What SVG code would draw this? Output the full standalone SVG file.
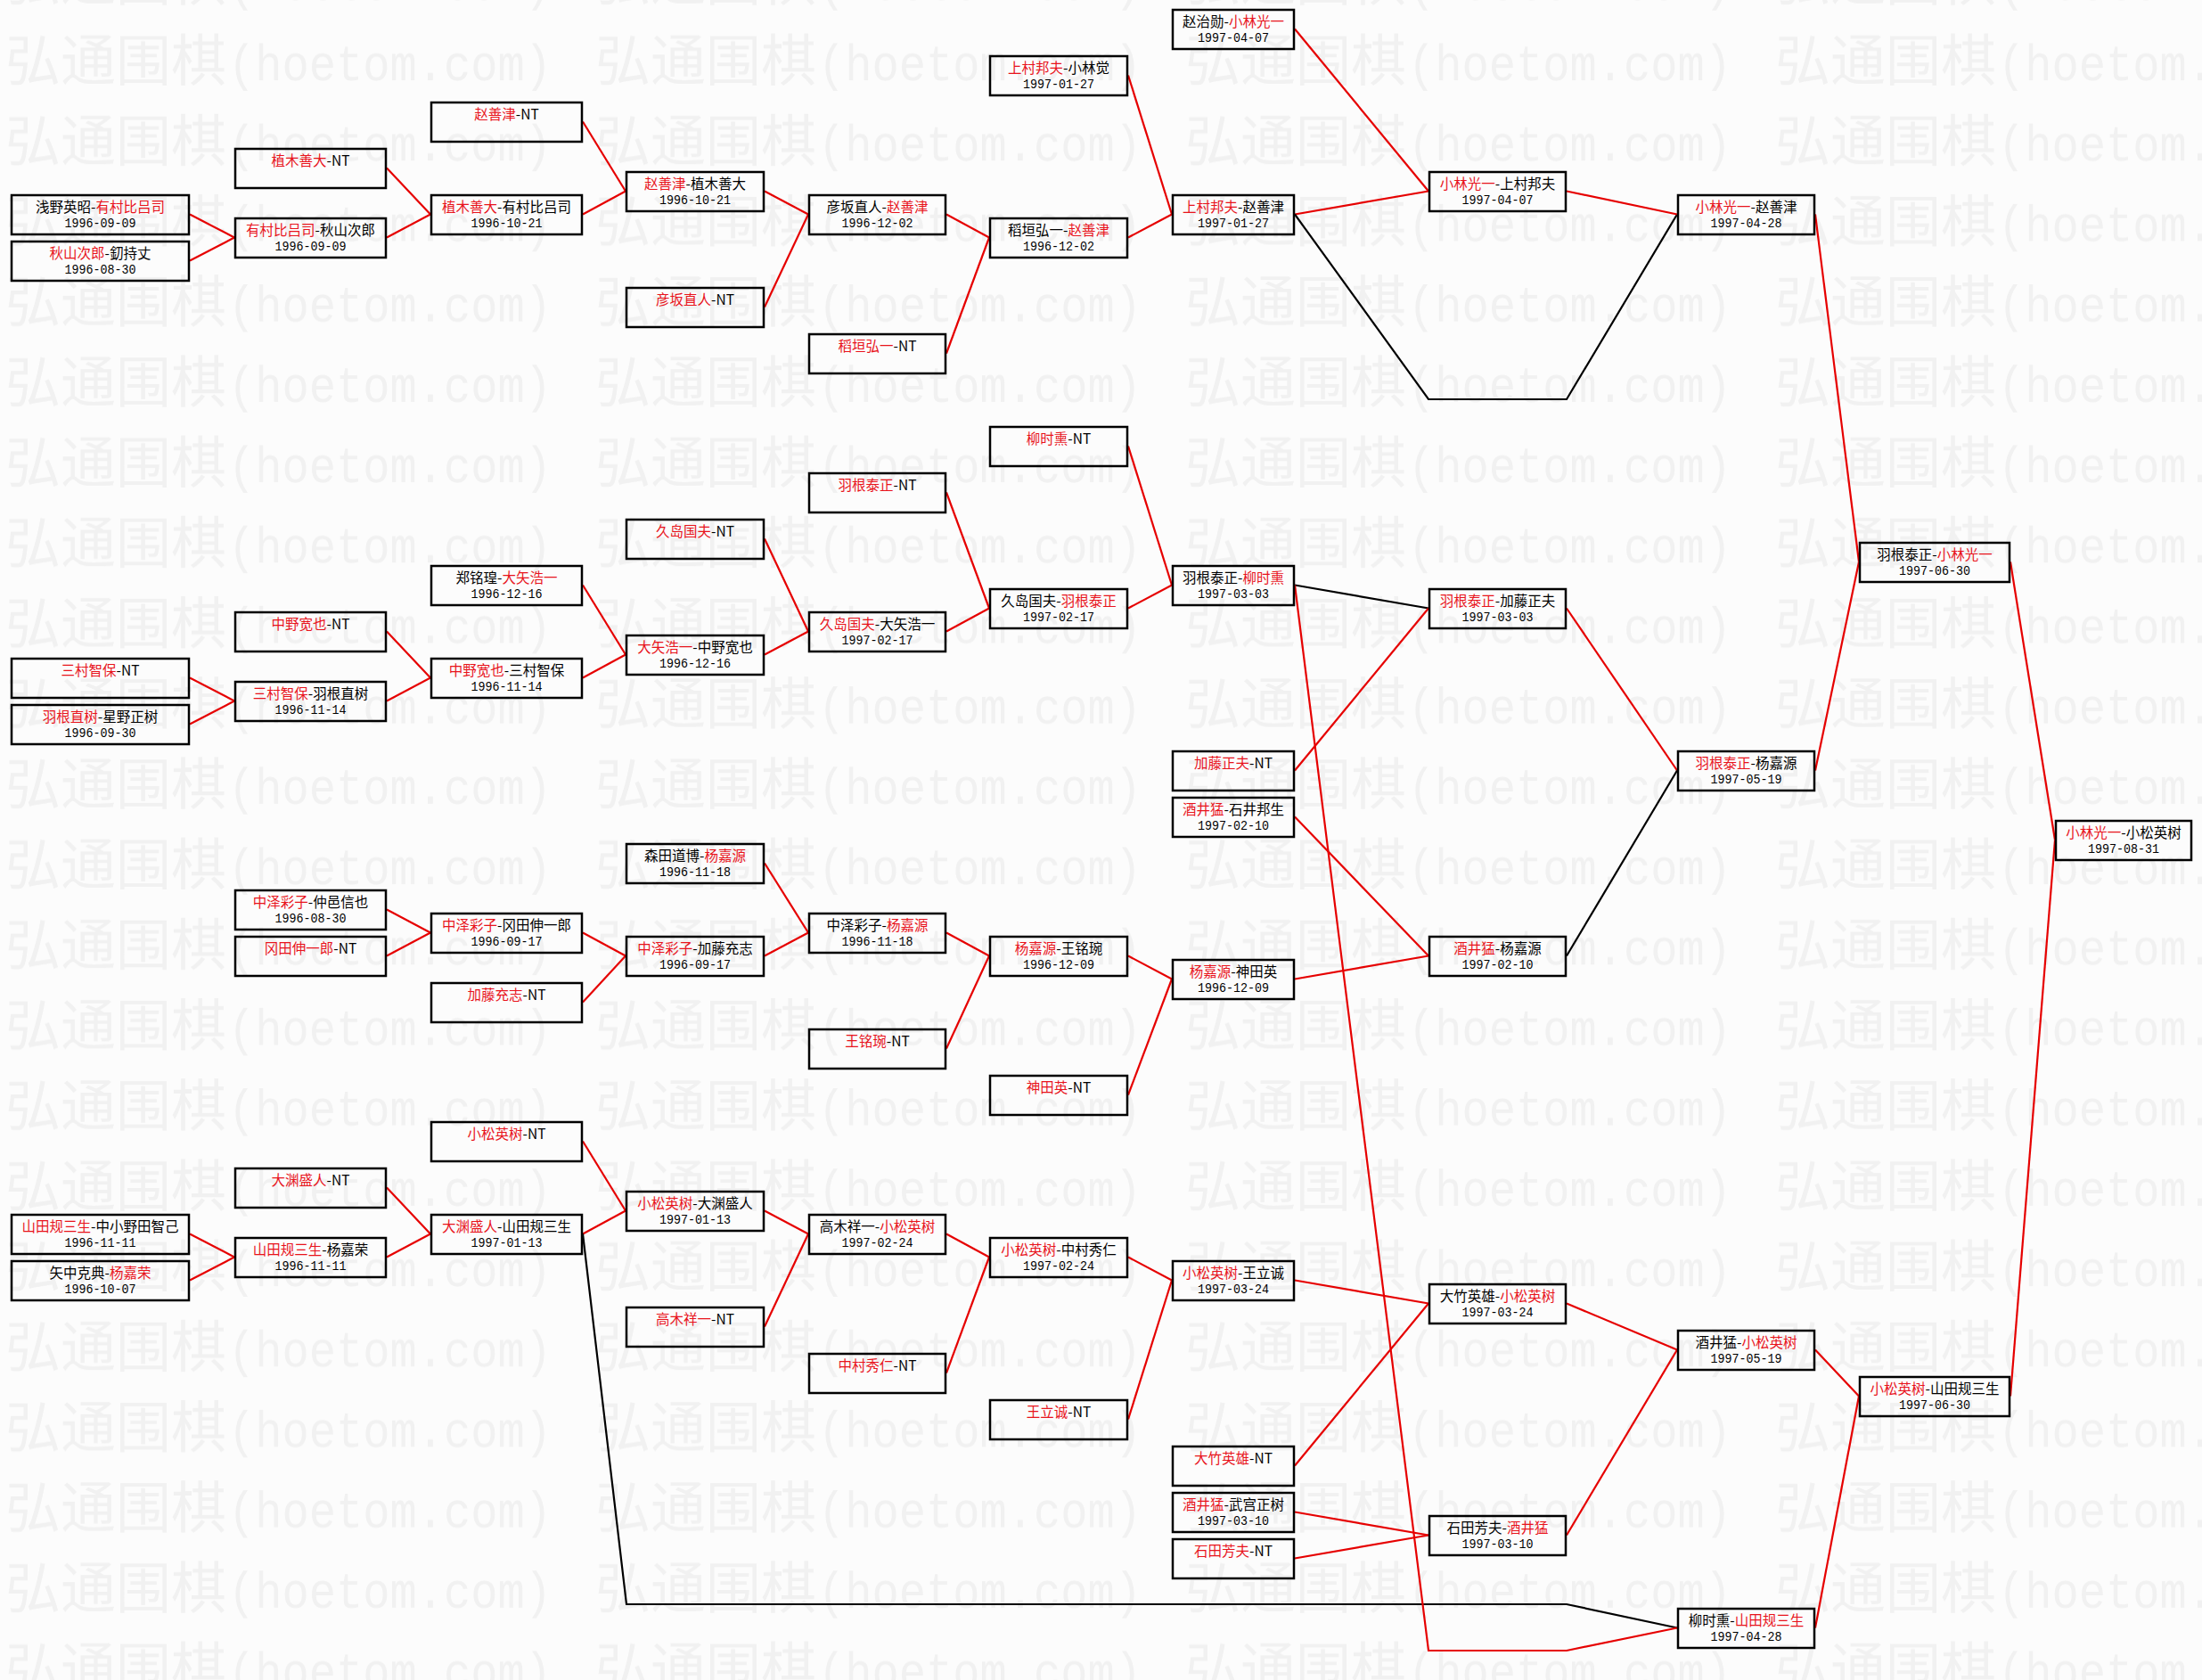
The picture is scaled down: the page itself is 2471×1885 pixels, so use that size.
<svg xmlns="http://www.w3.org/2000/svg" width="2471" height="1885" viewBox="0 0 2471 1885">
<style>
.n rect{fill:none;stroke:#000;stroke-width:2.5}
.t{font-family:"Noto Sans CJK SC","Noto Sans CJK JP",sans-serif;font-size:15.5px;fill:#000;text-anchor:middle}
.d{font-family:"Liberation Mono",monospace;font-size:15.5px;fill:#000}
.r{fill:#e8141c}
.cr{stroke:#e60000;stroke-width:2.2;fill:none}
.cb{stroke:#000;stroke-width:2.2;fill:none}
.wm1{font-family:"Noto Sans CJK SC",sans-serif;font-size:62px;fill:#f1f1f1}
.wm2{font-family:"Liberation Mono",monospace;font-size:56px;fill:#f1f1f1}
</style>
<defs>
<pattern id="wm" patternUnits="userSpaceOnUse" x="6" y="29.6" width="662" height="90.2">
<text class="wm1" x="0" y="60">弘通围棋</text>
<text class="wm2" x="250" y="60" textLength="363" lengthAdjust="spacingAndGlyphs">(hoetom.com)</text>
</pattern>
</defs>
<rect width="2471" height="1885" fill="#fcfcfc"/>
<rect width="2471" height="1885" fill="url(#wm)"/>

<g id="connectors">
<line class="cr" x1="213" y1="240.5" x2="263" y2="266.5"/>
<line class="cr" x1="213" y1="292.5" x2="263" y2="266.5"/>
<line class="cr" x1="213" y1="760.5" x2="263" y2="786.5"/>
<line class="cr" x1="213" y1="812.5" x2="263" y2="786.5"/>
<line class="cr" x1="213" y1="1384.5" x2="263" y2="1410.5"/>
<line class="cr" x1="213" y1="1436.5" x2="263" y2="1410.5"/>
<line class="cr" x1="434" y1="188.5" x2="483" y2="240.5"/>
<line class="cr" x1="434" y1="266.5" x2="483" y2="240.5"/>
<line class="cr" x1="434" y1="708.5" x2="483" y2="760.5"/>
<line class="cr" x1="434" y1="786.5" x2="483" y2="760.5"/>
<line class="cr" x1="434" y1="1020.5" x2="483" y2="1046.5"/>
<line class="cr" x1="434" y1="1072.5" x2="483" y2="1046.5"/>
<line class="cr" x1="434" y1="1332.5" x2="483" y2="1384.5"/>
<line class="cr" x1="434" y1="1410.5" x2="483" y2="1384.5"/>
<line class="cr" x1="654" y1="136.5" x2="702" y2="214.5"/>
<line class="cr" x1="654" y1="240.5" x2="702" y2="214.5"/>
<line class="cr" x1="654" y1="656.5" x2="702" y2="734.5"/>
<line class="cr" x1="654" y1="760.5" x2="702" y2="734.5"/>
<line class="cr" x1="654" y1="1046.5" x2="702" y2="1072.5"/>
<line class="cr" x1="654" y1="1124.5" x2="702" y2="1072.5"/>
<line class="cr" x1="654" y1="1280.5" x2="702" y2="1358.5"/>
<line class="cr" x1="654" y1="1384.5" x2="702" y2="1358.5"/>
<polyline class="cb" points="654,1384.5 703,1800 1758,1800 1882,1826.5"/>
<line class="cr" x1="858" y1="214.5" x2="907" y2="240.5"/>
<line class="cr" x1="858" y1="344.5" x2="907" y2="240.5"/>
<line class="cr" x1="858" y1="604.5" x2="907" y2="708.5"/>
<line class="cr" x1="858" y1="734.5" x2="907" y2="708.5"/>
<line class="cr" x1="858" y1="968.5" x2="907" y2="1046.5"/>
<line class="cr" x1="858" y1="1072.5" x2="907" y2="1046.5"/>
<line class="cr" x1="858" y1="1358.5" x2="907" y2="1384.5"/>
<line class="cr" x1="858" y1="1488.5" x2="907" y2="1384.5"/>
<line class="cr" x1="1062" y1="240.5" x2="1110" y2="266.5"/>
<line class="cr" x1="1062" y1="396.5" x2="1110" y2="266.5"/>
<line class="cr" x1="1062" y1="552.5" x2="1110" y2="682.5"/>
<line class="cr" x1="1062" y1="708.5" x2="1110" y2="682.5"/>
<line class="cr" x1="1062" y1="1046.5" x2="1110" y2="1072.5"/>
<line class="cr" x1="1062" y1="1176.5" x2="1110" y2="1072.5"/>
<line class="cr" x1="1062" y1="1384.5" x2="1110" y2="1410.5"/>
<line class="cr" x1="1062" y1="1540.5" x2="1110" y2="1410.5"/>
<line class="cr" x1="1266" y1="84.5" x2="1315" y2="240.5"/>
<line class="cr" x1="1266" y1="266.5" x2="1315" y2="240.5"/>
<line class="cr" x1="1266" y1="500.5" x2="1315" y2="656.5"/>
<line class="cr" x1="1266" y1="682.5" x2="1315" y2="656.5"/>
<line class="cr" x1="1266" y1="1072.5" x2="1315" y2="1098.5"/>
<line class="cr" x1="1266" y1="1228.5" x2="1315" y2="1098.5"/>
<line class="cr" x1="1266" y1="1410.5" x2="1315" y2="1436.5"/>
<line class="cr" x1="1266" y1="1592.5" x2="1315" y2="1436.5"/>
<line class="cr" x1="1453" y1="32.5" x2="1603" y2="214.5"/>
<line class="cr" x1="1453" y1="240.5" x2="1603" y2="214.5"/>
<polyline class="cb" points="1453,240.5 1603,448 1758,448 1882,240.5"/>
<line class="cb" x1="1453" y1="656.5" x2="1603" y2="682.5"/>
<line class="cr" x1="1453" y1="864.5" x2="1603" y2="682.5"/>
<line class="cr" x1="1453" y1="916.5" x2="1603" y2="1072.5"/>
<line class="cr" x1="1453" y1="1098.5" x2="1603" y2="1072.5"/>
<line class="cr" x1="1453" y1="1436.5" x2="1603" y2="1462.5"/>
<line class="cr" x1="1453" y1="1644.5" x2="1603" y2="1462.5"/>
<line class="cr" x1="1453" y1="1696.5" x2="1603" y2="1722.5"/>
<line class="cr" x1="1453" y1="1748.5" x2="1603" y2="1722.5"/>
<polyline class="cr" points="1453,656.5 1603,1852 1758,1852 1882,1826.5"/>
<line class="cr" x1="1758" y1="214.5" x2="1882" y2="240.5"/>
<line class="cr" x1="1758" y1="682.5" x2="1882" y2="864.5"/>
<line class="cb" x1="1758" y1="1072.5" x2="1882" y2="864.5"/>
<line class="cr" x1="1758" y1="1462.5" x2="1882" y2="1514.5"/>
<line class="cr" x1="1758" y1="1722.5" x2="1882" y2="1514.5"/>
<line class="cr" x1="2037" y1="240.5" x2="2086" y2="630.5"/>
<line class="cr" x1="2037" y1="864.5" x2="2086" y2="630.5"/>
<line class="cr" x1="2037" y1="1514.5" x2="2086" y2="1566.5"/>
<line class="cr" x1="2037" y1="1826.5" x2="2086" y2="1566.5"/>
<line class="cr" x1="2256" y1="630.5" x2="2306" y2="942.5"/>
<line class="cr" x1="2256" y1="1566.5" x2="2306" y2="942.5"/>
</g>

<g id="c0-8" class="n" transform="translate(12,218)"><rect x="1" y="1" width="199" height="44"/><text class="t" x="100.5" y="20">浅野英昭-<tspan class="r">有村比吕司</tspan></text><text class="d" x="60.5" y="37" textLength="80" lengthAdjust="spacingAndGlyphs">1996-09-09</text></g>
<g id="c0-10" class="n" transform="translate(12,270)"><rect x="1" y="1" width="199" height="44"/><text class="t" x="100.5" y="20"><tspan class="r">秋山次郎</tspan>-釖持丈</text><text class="d" x="60.5" y="37" textLength="80" lengthAdjust="spacingAndGlyphs">1996-08-30</text></g>
<g id="c0-28" class="n" transform="translate(12,738)"><rect x="1" y="1" width="199" height="44"/><text class="t" x="100.5" y="20"><tspan class="r">三村智保</tspan>-NT</text></g>
<g id="c0-30" class="n" transform="translate(12,790)"><rect x="1" y="1" width="199" height="44"/><text class="t" x="100.5" y="20"><tspan class="r">羽根直树</tspan>-星野正树</text><text class="d" x="60.5" y="37" textLength="80" lengthAdjust="spacingAndGlyphs">1996-09-30</text></g>
<g id="c0-52" class="n" transform="translate(12,1362)"><rect x="1" y="1" width="199" height="44"/><text class="t" x="100.5" y="20"><tspan class="r">山田规三生</tspan>-中小野田智己</text><text class="d" x="60.5" y="37" textLength="80" lengthAdjust="spacingAndGlyphs">1996-11-11</text></g>
<g id="c0-54" class="n" transform="translate(12,1414)"><rect x="1" y="1" width="199" height="44"/><text class="t" x="100.5" y="20">矢中克典-<tspan class="r">杨嘉荣</tspan></text><text class="d" x="60.5" y="37" textLength="80" lengthAdjust="spacingAndGlyphs">1996-10-07</text></g>

<g id="c1-6" class="n" transform="translate(263,166)"><rect x="1" y="1" width="169" height="44"/><text class="t" x="85.5" y="20"><tspan class="r">植木善大</tspan>-NT</text></g>
<g id="c1-9" class="n" transform="translate(263,244)"><rect x="1" y="1" width="169" height="44"/><text class="t" x="85.5" y="20"><tspan class="r">有村比吕司</tspan>-秋山次郎</text><text class="d" x="45.5" y="37" textLength="80" lengthAdjust="spacingAndGlyphs">1996-09-09</text></g>
<g id="c1-26" class="n" transform="translate(263,686)"><rect x="1" y="1" width="169" height="44"/><text class="t" x="85.5" y="20"><tspan class="r">中野宽也</tspan>-NT</text></g>
<g id="c1-29" class="n" transform="translate(263,764)"><rect x="1" y="1" width="169" height="44"/><text class="t" x="85.5" y="20"><tspan class="r">三村智保</tspan>-羽根直树</text><text class="d" x="45.5" y="37" textLength="80" lengthAdjust="spacingAndGlyphs">1996-11-14</text></g>
<g id="c1-38" class="n" transform="translate(263,998)"><rect x="1" y="1" width="169" height="44"/><text class="t" x="85.5" y="20"><tspan class="r">中泽彩子</tspan>-仲邑信也</text><text class="d" x="45.5" y="37" textLength="80" lengthAdjust="spacingAndGlyphs">1996-08-30</text></g>
<g id="c1-40" class="n" transform="translate(263,1050)"><rect x="1" y="1" width="169" height="44"/><text class="t" x="85.5" y="20"><tspan class="r">冈田伸一郎</tspan>-NT</text></g>
<g id="c1-50" class="n" transform="translate(263,1310)"><rect x="1" y="1" width="169" height="44"/><text class="t" x="85.5" y="20"><tspan class="r">大渊盛人</tspan>-NT</text></g>
<g id="c1-53" class="n" transform="translate(263,1388)"><rect x="1" y="1" width="169" height="44"/><text class="t" x="85.5" y="20"><tspan class="r">山田规三生</tspan>-杨嘉荣</text><text class="d" x="45.5" y="37" textLength="80" lengthAdjust="spacingAndGlyphs">1996-11-11</text></g>

<g id="c2-4" class="n" transform="translate(483,114)"><rect x="1" y="1" width="169" height="44"/><text class="t" x="85.5" y="20"><tspan class="r">赵善津</tspan>-NT</text></g>
<g id="c2-8" class="n" transform="translate(483,218)"><rect x="1" y="1" width="169" height="44"/><text class="t" x="85.5" y="20"><tspan class="r">植木善大</tspan>-有村比吕司</text><text class="d" x="45.5" y="37" textLength="80" lengthAdjust="spacingAndGlyphs">1996-10-21</text></g>
<g id="c2-24" class="n" transform="translate(483,634)"><rect x="1" y="1" width="169" height="44"/><text class="t" x="85.5" y="20">郑铭瑝-<tspan class="r">大矢浩一</tspan></text><text class="d" x="45.5" y="37" textLength="80" lengthAdjust="spacingAndGlyphs">1996-12-16</text></g>
<g id="c2-28" class="n" transform="translate(483,738)"><rect x="1" y="1" width="169" height="44"/><text class="t" x="85.5" y="20"><tspan class="r">中野宽也</tspan>-三村智保</text><text class="d" x="45.5" y="37" textLength="80" lengthAdjust="spacingAndGlyphs">1996-11-14</text></g>
<g id="c2-39" class="n" transform="translate(483,1024)"><rect x="1" y="1" width="169" height="44"/><text class="t" x="85.5" y="20"><tspan class="r">中泽彩子</tspan>-冈田伸一郎</text><text class="d" x="45.5" y="37" textLength="80" lengthAdjust="spacingAndGlyphs">1996-09-17</text></g>
<g id="c2-42" class="n" transform="translate(483,1102)"><rect x="1" y="1" width="169" height="44"/><text class="t" x="85.5" y="20"><tspan class="r">加藤充志</tspan>-NT</text></g>
<g id="c2-48" class="n" transform="translate(483,1258)"><rect x="1" y="1" width="169" height="44"/><text class="t" x="85.5" y="20"><tspan class="r">小松英树</tspan>-NT</text></g>
<g id="c2-52" class="n" transform="translate(483,1362)"><rect x="1" y="1" width="169" height="44"/><text class="t" x="85.5" y="20"><tspan class="r">大渊盛人</tspan>-山田规三生</text><text class="d" x="45.5" y="37" textLength="80" lengthAdjust="spacingAndGlyphs">1997-01-13</text></g>

<g id="c3-7" class="n" transform="translate(702,192)"><rect x="1" y="1" width="154" height="44"/><text class="t" x="78" y="20"><tspan class="r">赵善津</tspan>-植木善大</text><text class="d" x="38" y="37" textLength="80" lengthAdjust="spacingAndGlyphs">1996-10-21</text></g>
<g id="c3-12" class="n" transform="translate(702,322)"><rect x="1" y="1" width="154" height="44"/><text class="t" x="78" y="20"><tspan class="r">彦坂直人</tspan>-NT</text></g>
<g id="c3-22" class="n" transform="translate(702,582)"><rect x="1" y="1" width="154" height="44"/><text class="t" x="78" y="20"><tspan class="r">久岛国夫</tspan>-NT</text></g>
<g id="c3-27" class="n" transform="translate(702,712)"><rect x="1" y="1" width="154" height="44"/><text class="t" x="78" y="20"><tspan class="r">大矢浩一</tspan>-中野宽也</text><text class="d" x="38" y="37" textLength="80" lengthAdjust="spacingAndGlyphs">1996-12-16</text></g>
<g id="c3-36" class="n" transform="translate(702,946)"><rect x="1" y="1" width="154" height="44"/><text class="t" x="78" y="20">森田道博-<tspan class="r">杨嘉源</tspan></text><text class="d" x="38" y="37" textLength="80" lengthAdjust="spacingAndGlyphs">1996-11-18</text></g>
<g id="c3-40" class="n" transform="translate(702,1050)"><rect x="1" y="1" width="154" height="44"/><text class="t" x="78" y="20"><tspan class="r">中泽彩子</tspan>-加藤充志</text><text class="d" x="38" y="37" textLength="80" lengthAdjust="spacingAndGlyphs">1996-09-17</text></g>
<g id="c3-51" class="n" transform="translate(702,1336)"><rect x="1" y="1" width="154" height="44"/><text class="t" x="78" y="20"><tspan class="r">小松英树</tspan>-大渊盛人</text><text class="d" x="38" y="37" textLength="80" lengthAdjust="spacingAndGlyphs">1997-01-13</text></g>
<g id="c3-56" class="n" transform="translate(702,1466)"><rect x="1" y="1" width="154" height="44"/><text class="t" x="78" y="20"><tspan class="r">高木祥一</tspan>-NT</text></g>

<g id="c4-8" class="n" transform="translate(907,218)"><rect x="1" y="1" width="153" height="44"/><text class="t" x="77.5" y="20">彦坂直人-<tspan class="r">赵善津</tspan></text><text class="d" x="37.5" y="37" textLength="80" lengthAdjust="spacingAndGlyphs">1996-12-02</text></g>
<g id="c4-14" class="n" transform="translate(907,374)"><rect x="1" y="1" width="153" height="44"/><text class="t" x="77.5" y="20"><tspan class="r">稻垣弘一</tspan>-NT</text></g>
<g id="c4-20" class="n" transform="translate(907,530)"><rect x="1" y="1" width="153" height="44"/><text class="t" x="77.5" y="20"><tspan class="r">羽根泰正</tspan>-NT</text></g>
<g id="c4-26" class="n" transform="translate(907,686)"><rect x="1" y="1" width="153" height="44"/><text class="t" x="77.5" y="20"><tspan class="r">久岛国夫</tspan>-大矢浩一</text><text class="d" x="37.5" y="37" textLength="80" lengthAdjust="spacingAndGlyphs">1997-02-17</text></g>
<g id="c4-39" class="n" transform="translate(907,1024)"><rect x="1" y="1" width="153" height="44"/><text class="t" x="77.5" y="20">中泽彩子-<tspan class="r">杨嘉源</tspan></text><text class="d" x="37.5" y="37" textLength="80" lengthAdjust="spacingAndGlyphs">1996-11-18</text></g>
<g id="c4-44" class="n" transform="translate(907,1154)"><rect x="1" y="1" width="153" height="44"/><text class="t" x="77.5" y="20"><tspan class="r">王铭琬</tspan>-NT</text></g>
<g id="c4-52" class="n" transform="translate(907,1362)"><rect x="1" y="1" width="153" height="44"/><text class="t" x="77.5" y="20">高木祥一-<tspan class="r">小松英树</tspan></text><text class="d" x="37.5" y="37" textLength="80" lengthAdjust="spacingAndGlyphs">1997-02-24</text></g>
<g id="c4-58" class="n" transform="translate(907,1518)"><rect x="1" y="1" width="153" height="44"/><text class="t" x="77.5" y="20"><tspan class="r">中村秀仁</tspan>-NT</text></g>

<g id="c5-2" class="n" transform="translate(1110,62)"><rect x="1" y="1" width="154" height="44"/><text class="t" x="78" y="20"><tspan class="r">上村邦夫</tspan>-小林觉</text><text class="d" x="38" y="37" textLength="80" lengthAdjust="spacingAndGlyphs">1997-01-27</text></g>
<g id="c5-9" class="n" transform="translate(1110,244)"><rect x="1" y="1" width="154" height="44"/><text class="t" x="78" y="20">稻垣弘一-<tspan class="r">赵善津</tspan></text><text class="d" x="38" y="37" textLength="80" lengthAdjust="spacingAndGlyphs">1996-12-02</text></g>
<g id="c5-18" class="n" transform="translate(1110,478)"><rect x="1" y="1" width="154" height="44"/><text class="t" x="78" y="20"><tspan class="r">柳时熏</tspan>-NT</text></g>
<g id="c5-25" class="n" transform="translate(1110,660)"><rect x="1" y="1" width="154" height="44"/><text class="t" x="78" y="20">久岛国夫-<tspan class="r">羽根泰正</tspan></text><text class="d" x="38" y="37" textLength="80" lengthAdjust="spacingAndGlyphs">1997-02-17</text></g>
<g id="c5-40" class="n" transform="translate(1110,1050)"><rect x="1" y="1" width="154" height="44"/><text class="t" x="78" y="20"><tspan class="r">杨嘉源</tspan>-王铭琬</text><text class="d" x="38" y="37" textLength="80" lengthAdjust="spacingAndGlyphs">1996-12-09</text></g>
<g id="c5-46" class="n" transform="translate(1110,1206)"><rect x="1" y="1" width="154" height="44"/><text class="t" x="78" y="20"><tspan class="r">神田英</tspan>-NT</text></g>
<g id="c5-53" class="n" transform="translate(1110,1388)"><rect x="1" y="1" width="154" height="44"/><text class="t" x="78" y="20"><tspan class="r">小松英树</tspan>-中村秀仁</text><text class="d" x="38" y="37" textLength="80" lengthAdjust="spacingAndGlyphs">1997-02-24</text></g>
<g id="c5-60" class="n" transform="translate(1110,1570)"><rect x="1" y="1" width="154" height="44"/><text class="t" x="78" y="20"><tspan class="r">王立诚</tspan>-NT</text></g>

<g id="c6-0" class="n" transform="translate(1315,10)"><rect x="1" y="1" width="136" height="44"/><text class="t" x="69" y="20">赵治勋-<tspan class="r">小林光一</tspan></text><text class="d" x="29" y="37" textLength="80" lengthAdjust="spacingAndGlyphs">1997-04-07</text></g>
<g id="c6-8" class="n" transform="translate(1315,218)"><rect x="1" y="1" width="136" height="44"/><text class="t" x="69" y="20"><tspan class="r">上村邦夫</tspan>-赵善津</text><text class="d" x="29" y="37" textLength="80" lengthAdjust="spacingAndGlyphs">1997-01-27</text></g>
<g id="c6-24" class="n" transform="translate(1315,634)"><rect x="1" y="1" width="136" height="44"/><text class="t" x="69" y="20">羽根泰正-<tspan class="r">柳时熏</tspan></text><text class="d" x="29" y="37" textLength="80" lengthAdjust="spacingAndGlyphs">1997-03-03</text></g>
<g id="c6-32" class="n" transform="translate(1315,842)"><rect x="1" y="1" width="136" height="44"/><text class="t" x="69" y="20"><tspan class="r">加藤正夫</tspan>-NT</text></g>
<g id="c6-34" class="n" transform="translate(1315,894)"><rect x="1" y="1" width="136" height="44"/><text class="t" x="69" y="20"><tspan class="r">酒井猛</tspan>-石井邦生</text><text class="d" x="29" y="37" textLength="80" lengthAdjust="spacingAndGlyphs">1997-02-10</text></g>
<g id="c6-41" class="n" transform="translate(1315,1076)"><rect x="1" y="1" width="136" height="44"/><text class="t" x="69" y="20"><tspan class="r">杨嘉源</tspan>-神田英</text><text class="d" x="29" y="37" textLength="80" lengthAdjust="spacingAndGlyphs">1996-12-09</text></g>
<g id="c6-54" class="n" transform="translate(1315,1414)"><rect x="1" y="1" width="136" height="44"/><text class="t" x="69" y="20"><tspan class="r">小松英树</tspan>-王立诚</text><text class="d" x="29" y="37" textLength="80" lengthAdjust="spacingAndGlyphs">1997-03-24</text></g>
<g id="c6-62" class="n" transform="translate(1315,1622)"><rect x="1" y="1" width="136" height="44"/><text class="t" x="69" y="20"><tspan class="r">大竹英雄</tspan>-NT</text></g>
<g id="c6-64" class="n" transform="translate(1315,1674)"><rect x="1" y="1" width="136" height="44"/><text class="t" x="69" y="20"><tspan class="r">酒井猛</tspan>-武宫正树</text><text class="d" x="29" y="37" textLength="80" lengthAdjust="spacingAndGlyphs">1997-03-10</text></g>
<g id="c6-66" class="n" transform="translate(1315,1726)"><rect x="1" y="1" width="136" height="44"/><text class="t" x="69" y="20"><tspan class="r">石田芳夫</tspan>-NT</text></g>

<g id="c7-7" class="n" transform="translate(1603,192)"><rect x="1" y="1" width="153" height="44"/><text class="t" x="77.5" y="20"><tspan class="r">小林光一</tspan>-上村邦夫</text><text class="d" x="37.5" y="37" textLength="80" lengthAdjust="spacingAndGlyphs">1997-04-07</text></g>
<g id="c7-25" class="n" transform="translate(1603,660)"><rect x="1" y="1" width="153" height="44"/><text class="t" x="77.5" y="20"><tspan class="r">羽根泰正</tspan>-加藤正夫</text><text class="d" x="37.5" y="37" textLength="80" lengthAdjust="spacingAndGlyphs">1997-03-03</text></g>
<g id="c7-40" class="n" transform="translate(1603,1050)"><rect x="1" y="1" width="153" height="44"/><text class="t" x="77.5" y="20"><tspan class="r">酒井猛</tspan>-杨嘉源</text><text class="d" x="37.5" y="37" textLength="80" lengthAdjust="spacingAndGlyphs">1997-02-10</text></g>
<g id="c7-55" class="n" transform="translate(1603,1440)"><rect x="1" y="1" width="153" height="44"/><text class="t" x="77.5" y="20">大竹英雄-<tspan class="r">小松英树</tspan></text><text class="d" x="37.5" y="37" textLength="80" lengthAdjust="spacingAndGlyphs">1997-03-24</text></g>
<g id="c7-65" class="n" transform="translate(1603,1700)"><rect x="1" y="1" width="153" height="44"/><text class="t" x="77.5" y="20">石田芳夫-<tspan class="r">酒井猛</tspan></text><text class="d" x="37.5" y="37" textLength="80" lengthAdjust="spacingAndGlyphs">1997-03-10</text></g>

<g id="c8-8" class="n" transform="translate(1882,218)"><rect x="1" y="1" width="153" height="44"/><text class="t" x="77.5" y="20"><tspan class="r">小林光一</tspan>-赵善津</text><text class="d" x="37.5" y="37" textLength="80" lengthAdjust="spacingAndGlyphs">1997-04-28</text></g>
<g id="c8-32" class="n" transform="translate(1882,842)"><rect x="1" y="1" width="153" height="44"/><text class="t" x="77.5" y="20"><tspan class="r">羽根泰正</tspan>-杨嘉源</text><text class="d" x="37.5" y="37" textLength="80" lengthAdjust="spacingAndGlyphs">1997-05-19</text></g>
<g id="c8-57" class="n" transform="translate(1882,1492)"><rect x="1" y="1" width="153" height="44"/><text class="t" x="77.5" y="20">酒井猛-<tspan class="r">小松英树</tspan></text><text class="d" x="37.5" y="37" textLength="80" lengthAdjust="spacingAndGlyphs">1997-05-19</text></g>
<g id="c8-69" class="n" transform="translate(1882,1804)"><rect x="1" y="1" width="153" height="44"/><text class="t" x="77.5" y="20">柳时熏-<tspan class="r">山田规三生</tspan></text><text class="d" x="37.5" y="37" textLength="80" lengthAdjust="spacingAndGlyphs">1997-04-28</text></g>

<g id="c9-23" class="n" transform="translate(2086,608)"><rect x="1" y="1" width="168" height="44"/><text class="t" x="85" y="20">羽根泰正-<tspan class="r">小林光一</tspan></text><text class="d" x="45" y="37" textLength="80" lengthAdjust="spacingAndGlyphs">1997-06-30</text></g>
<g id="c9-59" class="n" transform="translate(2086,1544)"><rect x="1" y="1" width="168" height="44"/><text class="t" x="85" y="20"><tspan class="r">小松英树</tspan>-山田规三生</text><text class="d" x="45" y="37" textLength="80" lengthAdjust="spacingAndGlyphs">1997-06-30</text></g>

<g id="c10-35" class="n" transform="translate(2306,920)"><rect x="1" y="1" width="152" height="44"/><text class="t" x="77" y="20"><tspan class="r">小林光一</tspan>-小松英树</text><text class="d" x="37" y="37" textLength="80" lengthAdjust="spacingAndGlyphs">1997-08-31</text></g>
</svg>
